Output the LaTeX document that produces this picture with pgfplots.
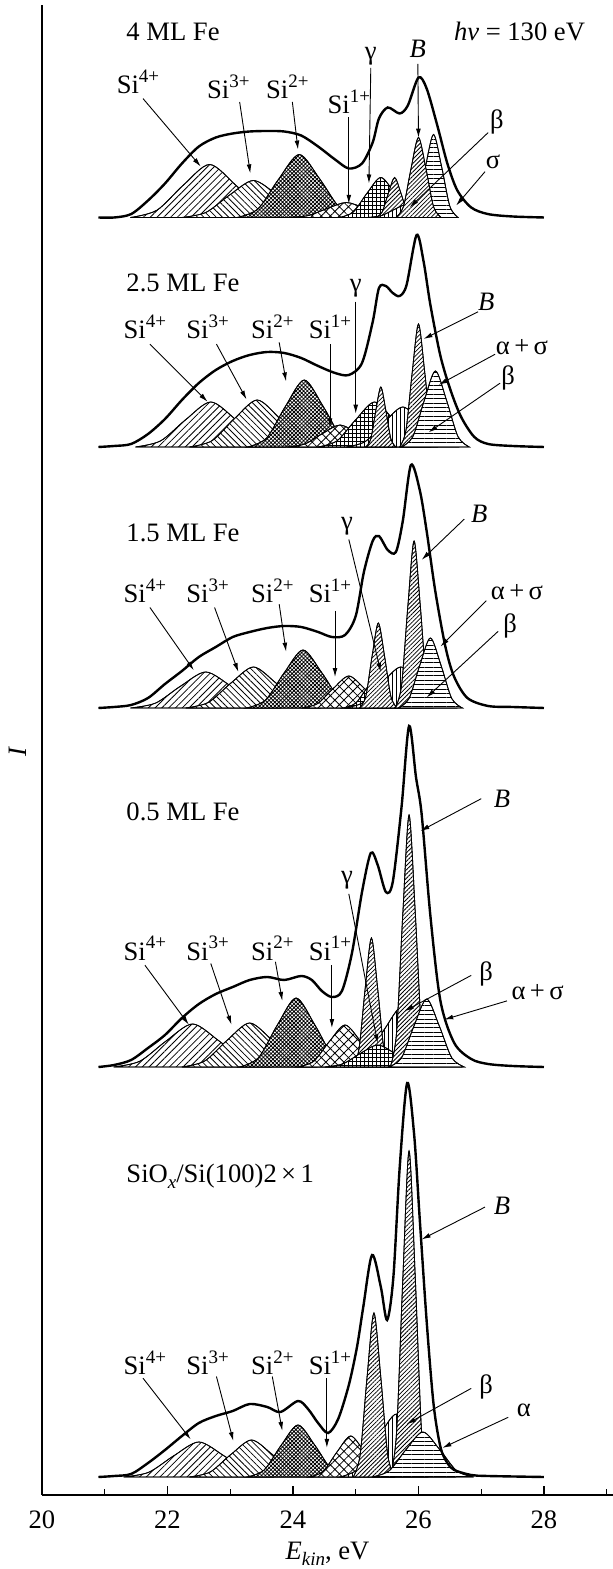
\documentclass[border=0pt]{standalone}
\usepackage{fontspec}
\setmainfont{Liberation Serif}
\usepackage{pgfplots}
\pgfplotsset{compat=1.18}
\usetikzlibrary{patterns.meta,arrows.meta}

\newcommand\sups[1]{\raisebox{0.42em}{\fontsize{9.5}{10}\selectfont #1}}
\newcommand\subs[1]{\raisebox{-0.22em}{\fontsize{9.5}{10}\selectfont #1}}

\tikzset{
  pA/.style={pattern={Lines[angle=45,distance=2.4pt,line width=0.4pt]}},
  pB/.style={pattern={Lines[angle=-45,distance=2.2pt,line width=0.4pt]}},
  pC/.style={pattern={Hatch[angle=45,distance=1.35pt,line width=0.4pt]}},
  pD/.style={pattern={Hatch[angle=45,distance=3.2pt,line width=0.4pt]}},
  pG/.style={pattern={Hatch[angle=0,distance=2pt,line width=0.35pt]}},
  pS/.style={pattern={Lines[angle=45,distance=1.5pt,line width=0.4pt]}},
  pV/.style={pattern={Lines[angle=90,distance=2pt,line width=0.4pt]}},
  pH/.style={pattern={Lines[angle=0,distance=2.2pt,line width=0.4pt]}},
  lbl/.style={font=\fontsize{13.3}{15}\selectfont, inner sep=0pt},
  arr/.style={line width=0.45pt, -{Latex[length=4.5pt,width=2.4pt]}},
}
\pgfplotsset{
  comp/.style 2 args={smooth, draw=black, line width=0.4pt, fill=white, postaction={#1}, y filter/.expression={y+#2}},
  env/.style={smooth, black, line width=1.2pt, y filter/.expression={y+#1}},
}

\begin{document}
\begin{tikzpicture}
\begin{axis}[
  name=ax,
  width=285.5pt, height=745pt, scale only axis,
  xmin=20, xmax=29.1, ymin=0, ymax=1490,
  axis lines*=left,
  axis line style={line width=0.7pt},
  xtick={20,22,24,26,28},
  minor xtick={21,23,25,27,29},
  ytick=\empty,
  tick align=inside,
  major tick length=4.5pt, minor tick length=2.8pt,
  tick style={line width=0.6pt, black},
  every tick label/.append style={font=\fontsize{13.3}{15}\selectfont},
  xticklabel style={yshift=-4.5pt},
  /pgf/number format/assume math mode=true,
  xlabel={\textit{E}\subs{\textit{kin}}, eV},
  ylabel={\textit{I}},
  xlabel style={font=\fontsize{13.3}{15}\selectfont, at={(axis description cs:0.5,0)}, anchor=center, yshift=-29.5pt},
  ylabel style={font=\fontsize{13.3}{15}\selectfont, at={(axis description cs:-0.042,0.499)}, anchor=center},
  clip=false,
]

% ===================== 4 ML Fe (baseline 1277.5) =====================
\addplot[comp={pA}{1277.5}] coordinates {(21.41,0)(21.83,7.2)(22.25,32.2)(22.67,53)(23.09,32.2)(23.51,7.2)(23.93,0)} -- cycle;
\addplot[comp={pB}{1277.5}] coordinates {(22.23,0)(22.61,5.0)(22.99,22.5)(23.37,37)(23.75,22.5)(24.13,5.0)(24.51,0)} -- cycle;
\addplot[comp={pC}{1277.5}] coordinates {(23.11,0)(23.44,8.5)(23.77,38.2)(24.10,63)(24.43,38.2)(24.76,8.5)(25.09,0)} -- cycle;
\addplot[comp={pD}{1277.5}] coordinates {(23.95,0)(24.25,2.0)(24.55,9.1)(24.85,15)(25.15,9.1)(25.45,2.0)(25.75,0)} -- cycle;
\addplot[comp={pG}{1277.5}] coordinates {(24.74,0)(24.96,5.4)(25.18,24.3)(25.40,40)(25.62,24.3)(25.84,5.4)(26.06,0)} -- cycle;
\addplot[comp={pS}{1277.5}] coordinates {(25.32,0)(25.42,5.4)(25.52,24.3)(25.62,40)(25.72,24.3)(25.82,5.4)(25.92,0)} -- cycle;
\addplot[comp={pV}{1277.5}] coordinates {(25.19,0)(25.41,1.9)(25.63,8.5)(25.85,14)(26.07,8.5)(26.29,1.9)(26.51,0)} -- cycle;
\addplot[comp={pH}{1277.5}] coordinates {(25.85,0)(25.98,11.2)(26.11,50.4)(26.24,83)(26.37,50.4)(26.50,11.2)(26.63,0)} -- cycle;
\addplot[comp={pS}{1277.5}] coordinates {(25.64,0)(25.76,10.8)(25.88,48.6)(26.00,80)(26.12,48.6)(26.24,10.8)(26.36,0)} -- cycle;
\addplot[env=1277.5] coordinates {(20.9,0)(21.15,0)(21.42,3.4)(21.69,17)(21.96,34)(22.23,54)(22.5,71)(22.77,80)(23.04,84)(23.31,86)(23.59,86.5)(23.86,86)(24.13,82)(24.40,71)(24.67,58)(24.89,49)(25.10,54)(25.27,75)(25.37,99)(25.51,110)(25.70,104)(25.83,112)(26.0,140)(26.13,129)(26.30,92)(26.46,54)(26.62,27)(26.84,10)(27.11,3.4)(27.5,1)(28.0,0)};

% ===================== 2.5 ML Fe (baseline 1048) =====================
\addplot[comp={pA}{1048}] coordinates {(21.49,0)(21.89,6.1)(22.29,27.3)(22.69,45)(23.09,27.3)(23.49,6.1)(23.89,0)} -- cycle;
\addplot[comp={pB}{1048}] coordinates {(22.35,0)(22.71,6.3)(23.07,28.5)(23.43,47)(23.79,28.5)(24.15,6.3)(24.51,0)} -- cycle;
\addplot[comp={pC}{1048}] coordinates {(23.28,0)(23.58,9.0)(23.88,40.7)(24.18,67)(24.48,40.7)(24.78,9.0)(25.08,0)} -- cycle;
\addplot[comp={pD}{1048}] coordinates {(23.91,0)(24.19,3.0)(24.47,13.4)(24.75,22)(25.03,13.4)(25.31,3.0)(25.59,0)} -- cycle;
\addplot[comp={pG}{1048}] coordinates {(24.40,0)(24.70,6.1)(25.00,27.3)(25.30,45)(25.60,27.3)(25.90,6.1)(26.20,0)} -- cycle;
\addplot[comp={pV}{1048}] coordinates {(24.85,0)(25.15,5.4)(25.45,24.3)(25.75,40)(26.05,24.3)(26.35,5.4)(26.65,0)} -- cycle;
\addplot[comp={pS}{1048}] coordinates {(25.16,0)(25.24,8.1)(25.32,36.4)(25.40,60)(25.48,36.4)(25.56,8.1)(25.64,0)} -- cycle;
\addplot[comp={pS}{1048}] coordinates {(25.70,0)(25.80,16.6)(25.90,74.7)(26.00,123)(26.10,74.7)(26.20,16.6)(26.30,0)} -- cycle;
\addplot[comp={pH}{1048}] coordinates {(25.73,0)(25.91,10.3)(26.09,46.1)(26.27,76)(26.45,46.1)(26.63,10.3)(26.81,0)} -- cycle;
\addplot[env=1048] coordinates {(20.9,0)(21.15,1)(21.42,3)(21.69,13)(21.96,28)(22.23,47)(22.5,64)(22.77,77)(23.04,86)(23.31,92)(23.59,95)(23.86,94)(24.13,89)(24.40,81)(24.67,74)(24.89,72)(25.10,84)(25.27,125)(25.37,159)(25.48,161)(25.59,154)(25.70,151)(25.81,162)(25.97,212)(26.08,186)(26.19,142)(26.35,91)(26.51,57)(26.68,30)(26.89,10)(27.11,3)(27.5,1)(28.0,0)};

% ===================== 1.5 ML Fe (baseline 787) =====================
\addplot[comp={pA}{787}] coordinates {(21.41,0)(21.81,4.9)(22.21,21.9)(22.61,36)(23.01,21.9)(23.41,4.9)(23.81,0)} -- cycle;
\addplot[comp={pB}{787}] coordinates {(22.29,0)(22.65,5.5)(23.01,24.9)(23.37,41)(23.73,24.9)(24.09,5.5)(24.45,0)} -- cycle;
\addplot[comp={pC}{787}] coordinates {(23.26,0)(23.56,7.8)(23.86,35.2)(24.16,58)(24.46,35.2)(24.76,7.8)(25.06,0)} -- cycle;
\addplot[comp={pD}{787}] coordinates {(24.14,0)(24.39,4.3)(24.64,19.4)(24.89,32)(25.14,19.4)(25.39,4.3)(25.64,0)} -- cycle;
\addplot[comp={pG}{787}] coordinates {(24.80,0)(25.00,4.9)(25.20,21.9)(25.40,36)(25.60,21.9)(25.80,4.9)(26.00,0)} -- cycle;
\addplot[comp={pV}{787}] coordinates {(24.82,0)(25.12,5.5)(25.42,24.9)(25.72,41)(26.02,24.9)(26.32,5.5)(26.62,0)} -- cycle;
\addplot[comp={pS}{787}] coordinates {(25.06,0)(25.16,11.5)(25.26,51.6)(25.36,85)(25.46,51.6)(25.56,11.5)(25.66,0)} -- cycle;
\addplot[comp={pS}{787}] coordinates {(25.63,0)(25.73,22.5)(25.83,101.4)(25.93,167)(26.03,101.4)(26.13,22.5)(26.23,0)} -- cycle;
\addplot[comp={pH}{787}] coordinates {(25.68,0)(25.85,9.5)(26.02,42.5)(26.19,70)(26.36,42.5)(26.53,9.5)(26.70,0)} -- cycle;
\addplot[env=787] coordinates {(20.9,0)(21.15,1)(21.42,3)(21.69,10)(21.96,24)(22.23,37)(22.5,51)(22.77,61)(23.04,71)(23.31,76)(23.59,80)(23.86,82)(24.13,81)(24.40,76)(24.62,71)(24.83,73)(25.0,92)(25.13,136)(25.27,167)(25.37,172)(25.51,158)(25.64,156)(25.75,187)(25.88,243)(26.02,218)(26.13,177)(26.27,116)(26.43,61)(26.57,31)(26.78,10)(27.11,2)(27.5,1)(28.0,0)};

% ===================== 0.5 ML Fe (baseline 428) =====================
\addplot[comp={pA}{428}] coordinates {(21.14,0)(21.56,5.8)(21.98,26.1)(22.40,43)(22.82,26.1)(23.24,5.8)(23.66,0)} -- cycle;
\addplot[comp={pB}{428}] coordinates {(22.23,0)(22.59,5.9)(22.95,26.7)(23.31,44)(23.67,26.7)(24.03,5.9)(24.39,0)} -- cycle;
\addplot[comp={pC}{428}] coordinates {(23.15,0)(23.45,9.3)(23.75,41.9)(24.05,69)(24.35,41.9)(24.65,9.3)(24.95,0)} -- cycle;
\addplot[comp={pD}{428}] coordinates {(24.08,0)(24.33,5.7)(24.58,25.5)(24.83,42)(25.08,25.5)(25.33,5.7)(25.58,0)} -- cycle;
\addplot[comp={pV}{428}] coordinates {(24.85,0)(25.15,8.2)(25.45,37.0)(25.75,61)(26.05,37.0)(26.35,8.2)(26.65,0)} -- cycle;
\addplot[comp={pS}{428}] coordinates {(24.95,0)(25.05,17.4)(25.15,78.3)(25.25,129)(25.35,78.3)(25.45,17.4)(25.55,0)} -- cycle;
\addplot[comp={pG}{428}] coordinates {(24.51,0)(24.79,3.0)(25.07,13.4)(25.35,22)(25.63,13.4)(25.91,3.0)(26.19,0)} -- cycle;
\addplot[comp={pS}{428}] coordinates {(25.55,0)(25.65,34.0)(25.75,153.0)(25.85,252)(25.95,153.0)(26.05,34.0)(26.15,0)} -- cycle;
\addplot[comp={pH}{428}] coordinates {(25.53,0)(25.73,9.2)(25.93,41.3)(26.13,68)(26.33,41.3)(26.53,9.2)(26.73,0)} -- cycle;
\addplot[env=428] coordinates {(20.9,0)(21.15,2)(21.42,7)(21.69,19)(21.96,32)(22.23,49)(22.5,63)(22.77,73)(23.04,80)(23.31,87)(23.59,90)(23.86,87)(24.13,91)(24.30,87)(24.46,76)(24.62,70)(24.78,76)(24.94,114)(25.10,175)(25.24,214)(25.35,202)(25.48,175)(25.59,185)(25.73,260)(25.85,341)(25.96,290)(26.05,253)(26.19,151)(26.35,66)(26.57,24)(26.84,8)(27.11,3)(27.5,1)(28.0,0)};

% ===================== SiOx/Si(100)2x1 (baseline 18) =====================
\addplot[comp={pA}{18}] coordinates {(21.30,0)(21.70,4.7)(22.10,21.2)(22.50,35)(22.90,21.2)(23.30,4.7)(23.70,0)} -- cycle;
\addplot[comp={pB}{18}] coordinates {(22.35,0)(22.68,5.0)(23.01,22.5)(23.34,37)(23.67,22.5)(24.00,5.0)(24.33,0)} -- cycle;
\addplot[comp={pC}{18}] coordinates {(23.27,0)(23.54,7.0)(23.81,31.6)(24.08,52)(24.35,31.6)(24.62,7.0)(24.89,0)} -- cycle;
\addplot[comp={pD}{18}] coordinates {(24.26,0)(24.48,5.5)(24.70,24.9)(24.92,41)(25.14,24.9)(25.36,5.5)(25.58,0)} -- cycle;
\addplot[comp={pV}{18}] coordinates {(24.75,0)(25.05,8.5)(25.35,38.2)(25.65,63)(25.95,38.2)(26.25,8.5)(26.55,0)} -- cycle;
\addplot[comp={pS}{18}] coordinates {(24.96,0)(25.07,22.1)(25.18,99.5)(25.29,164)(25.40,99.5)(25.51,22.1)(25.62,0)} -- cycle;
\addplot[comp={pS}{18}] coordinates {(25.55,0)(25.65,44.0)(25.75,197.9)(25.85,326)(25.95,197.9)(26.05,44.0)(26.15,0)} -- cycle;
\addplot[comp={pH}{18}] coordinates {(25.26,0)(25.53,6.1)(25.80,27.3)(26.07,45)(26.34,27.3)(26.61,6.1)(26.88,0)} -- cycle;
\addplot[env=18] coordinates {(20.9,0)(21.15,1)(21.42,3)(21.69,14)(21.96,27)(22.23,41)(22.5,54)(22.77,61)(23.04,66)(23.31,73)(23.59,70)(23.80,65)(24.08,76)(24.24,68)(24.40,54)(24.56,44)(24.72,58)(24.89,92)(25.02,130)(25.12,170)(25.26,222)(25.40,190)(25.50,157)(25.60,200)(25.70,309)(25.82,394)(25.93,343)(26.02,258)(26.13,156)(26.24,73)(26.35,30)(26.46,14)(26.57,7)(26.84,2)(27.11,1)(28.0,0)};

% ===================== annotations =====================
% 4 ML
\node[lbl, anchor=west] at (axis cs:21.34,1463) {4 ML Fe};
\node[lbl, anchor=east] at (axis cs:28.66,1464) {\textit{hν} = 130 eV};
\node[lbl] at (axis cs:21.53,1413.4) {Si\sups{4+}};
\draw[arr] (axis cs:21.61,1396.4) -- (axis cs:22.53,1328.4);
\node[lbl] at (axis cs:22.97,1408.3) {Si\sups{3+}};
\draw[arr] (axis cs:23.15,1393) -- (axis cs:23.32,1321.6);
\node[lbl] at (axis cs:23.91,1408.3) {Si\sups{2+}};
\draw[arr] (axis cs:23.99,1393) -- (axis cs:24.08,1345.4);
\node[lbl] at (axis cs:24.89,1393) {Si\sups{1+}};
\draw[arr] (axis cs:24.89,1377.7) -- (axis cs:24.89,1291.1);
\node[lbl] at (axis cs:25.24,1439) {γ};
\draw[arr] (axis cs:25.24,1427) -- (axis cs:25.21,1311.5);
\node[lbl] at (axis cs:25.99,1446) {\textit{B}};
\draw[arr] (axis cs:25.99,1431) -- (axis cs:26.0,1357.3);
\node[lbl] at (axis cs:27.25,1372.6) {β};
\draw[arr] (axis cs:27.11,1362.4) -- (axis cs:25.86,1287.7);
\node[lbl] at (axis cs:27.19,1333.5) {σ};
\draw[arr] (axis cs:27.06,1323.3) -- (axis cs:26.60,1289.4);

% 2.5 ML
\node[lbl, anchor=west] at (axis cs:21.34,1212.1) {2.5 ML Fe};
\node[lbl] at (axis cs:21.64,1167.9) {Si\sups{4+}};
\draw[arr] (axis cs:21.72,1150.9) -- (axis cs:22.64,1093.2);
\node[lbl] at (axis cs:22.64,1167.9) {Si\sups{3+}};
\draw[arr] (axis cs:22.78,1150.9) -- (axis cs:23.26,1095.5);
\node[lbl] at (axis cs:23.67,1167.9) {Si\sups{2+}};
\draw[arr] (axis cs:23.78,1152.6) -- (axis cs:23.89,1113.5);
\node[lbl] at (axis cs:24.59,1167.9) {Si\sups{1+}};
\draw[arr] (axis cs:24.59,1150.9) -- (axis cs:24.59,1067.7);
\node[lbl] at (axis cs:25.0,1207) {γ};
\draw[arr] (axis cs:25.0,1193.4) -- (axis cs:25.0,1081.3);
\node[lbl] at (axis cs:27.08,1193.4) {\textit{B}};
\draw[arr] (axis cs:26.95,1183.2) -- (axis cs:26.08,1156);
\node[lbl] at (axis cs:27.65,1147.5) {α\,+\,σ};
\draw[arr] (axis cs:27.22,1140.7) -- (axis cs:26.32,1110.1);
\node[lbl] at (axis cs:27.43,1116.9) {β};
\draw[arr] (axis cs:27.30,1111.8) -- (axis cs:26.16,1062.6);

% 1.5 ML
\node[lbl, anchor=west] at (axis cs:21.34,962.3) {1.5 ML Fe};
\node[lbl] at (axis cs:21.64,904.5) {Si\sups{4+}};
\draw[arr] (axis cs:21.72,887.5) -- (axis cs:22.42,824.7);
\node[lbl] at (axis cs:22.64,904.5) {Si\sups{3+}};
\draw[arr] (axis cs:22.75,887.5) -- (axis cs:23.13,823);
\node[lbl] at (axis cs:23.67,904.5) {Si\sups{2+}};
\draw[arr] (axis cs:23.78,890.9) -- (axis cs:23.89,843.3);
\node[lbl] at (axis cs:24.59,904.5) {Si\sups{1+}};
\draw[arr] (axis cs:24.67,884.1) -- (axis cs:24.67,817.9);
\node[lbl] at (axis cs:24.86,969.1) {γ};
\draw[arr] (axis cs:24.89,955.5) -- (axis cs:25.40,823);
\node[lbl] at (axis cs:26.97,981) {\textit{B}};
\draw[arr] (axis cs:26.73,975.9) -- (axis cs:26.05,935.1);
\node[lbl] at (axis cs:27.57,902.8) {α\,+\,σ};
\draw[arr] (axis cs:27.08,894.3) -- (axis cs:26.35,848.4);
\node[lbl] at (axis cs:27.46,868.8) {β};
\draw[arr] (axis cs:27.27,863.7) -- (axis cs:26.13,797.5);

% 0.5 ML
\node[lbl, anchor=west] at (axis cs:21.34,682.7) {0.5 ML Fe};
\node[lbl] at (axis cs:21.64,546.7) {Si\sups{4+}};
\draw[arr] (axis cs:21.64,529.8) -- (axis cs:22.34,470.3);
\node[lbl] at (axis cs:22.64,546.7) {Si\sups{3+}};
\draw[arr] (axis cs:22.69,531.5) -- (axis cs:23.02,470.3);
\node[lbl] at (axis cs:23.67,546.7) {Si\sups{2+}};
\draw[arr] (axis cs:23.72,533.2) -- (axis cs:23.83,494.1);
\node[lbl] at (axis cs:24.59,546.7) {Si\sups{1+}};
\draw[arr] (axis cs:24.62,529.8) -- (axis cs:24.62,466.9);
\node[lbl] at (axis cs:24.86,614.7) {γ};
\draw[arr] (axis cs:24.89,601.1) -- (axis cs:25.35,451.6);
\node[lbl] at (axis cs:27.33,696.3) {\textit{B}};
\draw[arr] (axis cs:27.0,696.3) -- (axis cs:26.03,664);
\node[lbl] at (axis cs:27.08,521.3) {β};
\draw[arr] (axis cs:26.84,519.6) -- (axis cs:25.78,483.9);
\node[lbl] at (axis cs:27.90,502.6) {α\,+\,σ};
\draw[arr] (axis cs:27.41,494.1) -- (axis cs:26.41,475.4);

% SiOx
\node[lbl, anchor=west] at (axis cs:21.34,318.5) {SiO\subs{\textit{x}}/Si(100)2\,×\,1};
\node[lbl] at (axis cs:27.33,289.6) {\textit{B}};
\draw[arr] (axis cs:27.06,287.9) -- (axis cs:26.05,255.6);
\node[lbl] at (axis cs:21.64,132.1) {Si\sups{4+}};
\draw[arr] (axis cs:21.61,116.8) -- (axis cs:22.37,55.6);
\node[lbl] at (axis cs:22.64,132.1) {Si\sups{3+}};
\draw[arr] (axis cs:22.78,118.5) -- (axis cs:23.05,53.9);
\node[lbl] at (axis cs:23.67,132.1) {Si\sups{2+}};
\draw[arr] (axis cs:23.67,118.5) -- (axis cs:23.83,64.1);
\node[lbl] at (axis cs:24.59,132.1) {Si\sups{1+}};
\draw[arr] (axis cs:24.54,116.8) -- (axis cs:24.54,47.1);
\node[lbl] at (axis cs:27.08,108.3) {β};
\draw[arr] (axis cs:26.84,106.6) -- (axis cs:25.81,70.9);
\node[lbl] at (axis cs:27.68,84.5) {α};
\draw[arr] (axis cs:27.43,77.7) -- (axis cs:26.38,47.1);
\end{axis}
\pgfresetboundingbox
\path[use as bounding box] ([shift={(-21pt,-37pt)}]ax.south west) rectangle ([shift={(0pt,2.5pt)}]ax.north east);
\end{tikzpicture}
\end{document}
